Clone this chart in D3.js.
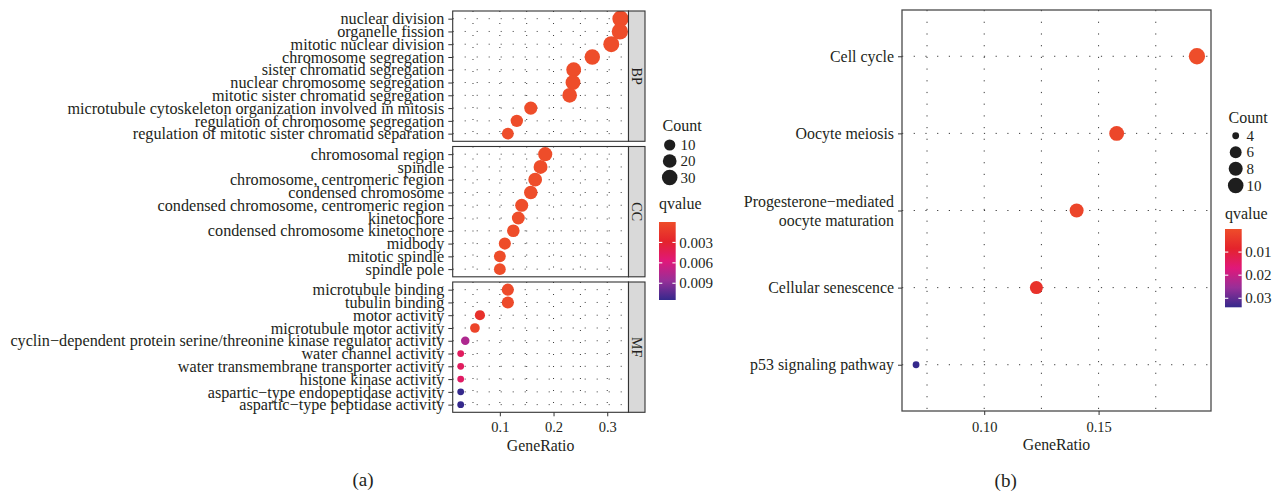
<!DOCTYPE html>
<html>
<head>
<meta charset="utf-8">
<script src="https://cdn.jsdelivr.net/npm/d3@7"></script>
<style>
  html, body { margin: 0; padding: 0; background: #fff; }
  svg text { font-family: "Liberation Serif", "Times New Roman", serif; fill: #231f20; }
</style>
</head>
<body>
<svg id="chart" width="1280" height="491"></svg>
<script>
// ---- (a) GO enrichment ----
const goFacets = ["BP", "CC", "MF"];
const goOntology = [
  "BP","BP","BP","BP","BP","BP","BP","BP","BP","BP",
  "CC","CC","CC","CC","CC","CC","CC","CC","CC","CC",
  "MF","MF","MF","MF","MF","MF","MF","MF","MF","MF"
];
const goTerm = [
  "nuclear division", "organelle fission", "mitotic nuclear division", "chromosome segregation",
  "sister chromatid segregation", "nuclear chromosome segregation", "mitotic sister chromatid segregation",
  "microtubule cytoskeleton organization involved in mitosis", "regulation of chromosome segregation",
  "regulation of mitotic sister chromatid separation",
  "chromosomal region", "spindle", "chromosome, centromeric region", "condensed chromosome",
  "condensed chromosome, centromeric region", "kinetochore", "condensed chromosome kinetochore",
  "midbody", "mitotic spindle", "spindle pole",
  "microtubule binding", "tubulin binding", "motor activity", "microtubule motor activity",
  "cyclin\u2212dependent protein serine/threonine kinase regulator activity", "water channel activity",
  "water transmembrane transporter activity", "histone kinase activity",
  "aspartic\u2212type endopeptidase activity", "aspartic\u2212type peptidase activity"
];
const goRatio = [
  0.3247, 0.3235, 0.3075, 0.2722, 0.2375, 0.2362, 0.2300, 0.1576, 0.1316, 0.1149,
  0.1845, 0.1758, 0.1658, 0.1576, 0.1407, 0.1344, 0.1251, 0.1093, 0.1000, 0.1000,
  0.1149, 0.1149, 0.0629, 0.0536, 0.0356, 0.0271, 0.0271, 0.0271, 0.0271, 0.0271
];
const goCount = [
  35, 35, 33, 29, 26, 26, 25, 17, 14, 12,
  22, 21, 20, 19, 17, 16, 15, 13, 12, 12,
  13, 13, 7, 6, 4, 3, 3, 3, 3, 3
];
const goQvalue = [
  1e-20, 1e-20, 1e-19, 1e-17, 1e-15, 1e-15, 1e-14, 1e-9, 1e-8, 1e-7,
  1e-12, 1e-11, 1e-11, 1e-10, 1e-9, 1e-9, 1e-8, 1e-6, 1e-6, 1e-6,
  0.0002, 0.0002, 0.0019, 0.0006, 0.0077, 0.0047, 0.0047, 0.0049, 0.01146, 0.01146
];
const goRatioTicks = [0.1, 0.2, 0.3];
const goGridTicks = [0.05, 0.1, 0.15, 0.2, 0.25, 0.3];
const goSizeBreaks = [10, 20, 30];
const goQBreaks = [0.003, 0.006, 0.009];

// ---- (b) KEGG enrichment ----
const keggTerm = [
  "Cell cycle", "Oocyte meiosis", "Progesterone\u2212mediated\noocyte maturation",
  "Cellular senescence", "p53 signaling pathway"
];
const keggRatio = [0.1930, 0.1579, 0.1404, 0.1228, 0.0702];
const keggCount = [11, 9, 8, 7, 4];
const keggQvalue = [0.000012, 0.0013, 0.0016, 0.0055, 0.0339];
const keggRatioTicks = [0.10, 0.15];
const keggGridTicks = [0.075, 0.10, 0.125, 0.15, 0.175];
const keggSizeBreaks = [4, 6, 8, 10];
const keggQBreaks = [0.01, 0.02, 0.03];

// qvalue colour ramp (low q -> high q)
const gradStops = ["#EE4D2A", "#E4232C", "#E0187A", "#982F98", "#35298C"];

// ---- shared helpers ----
const svg = d3.select("#chart");
svg.append("rect").attr("width", 1280).attr("height", 491).attr("fill", "#fff");
const defs = svg.append("defs");
const grad = defs.append("linearGradient").attr("id", "qgrad")
  .attr("x1", 0).attr("y1", 0).attr("x2", 0).attr("y2", 1);
gradStops.forEach((c, i) => grad.append("stop")
  .attr("offset", i / (gradStops.length - 1)).attr("stop-color", c));

const gradScale = d3.scaleLinear()
  .domain(gradStops.map((c, i) => i / (gradStops.length - 1)))
  .range(gradStops).interpolate(d3.interpolateRgb);

const D_MIN = 6.8, D_MAX = 16.3;
function sizeScale(counts) {
  const t = d3.scaleLinear().domain(d3.extent(counts)).range([0, 1]);
  return c => D_MIN + (D_MAX - D_MIN) * Math.sqrt(Math.max(0, t(c)));
}
function qScale(qs) { return d3.scaleLinear().domain(d3.extent(qs)).range([0, 1]); }
function expand(ext, f = 0.05) { const d = (ext[1] - ext[0]) * f; return [ext[0] - d, ext[1] + d]; }

const INK = "#333";
const FONT_LABEL_A = 16.2, FONT_LABEL_B = 15.9, FONT_TICK = 14.5, FONT_TITLE = 15.8;

function styleAxis(g, fontSize) {
  g.select(".domain").remove();
  g.selectAll(".tick line").attr("stroke", INK).attr("stroke-width", 1);
  g.selectAll(".tick text").attr("font-size", fontSize).attr("fill", "#231f20")
    .style("font-family", '"Liberation Serif", "Times New Roman", serif');
}

function drawLegend(g, L, sizeBreaks, diam, qt, qBreaks, fmt) {
  g.append("text").attr("x", L.x + 3.5).attr("y", L.countY).attr("font-size", 16).text("Count");
  let cy = L.keyTop;
  sizeBreaks.forEach(b => {
    const d = diam(b);
    const h = Math.max(L.keyH, d + 1.5);
    const c = cy + h / 2;
    g.append("circle").attr("cx", L.x + 10.7).attr("cy", c).attr("r", d / 2).attr("fill", "#1e1e1e");
    g.append("text").attr("x", L.x + 21.5).attr("y", c + 5.1).attr("font-size", 15).text(b);
    cy += h;
  });
  g.append("text").attr("x", L.x).attr("y", L.qTitleY).attr("font-size", 16).text("qvalue");
  const bw = 16.7;
  g.append("rect").attr("x", L.x).attr("y", L.barTop).attr("width", bw).attr("height", L.barH)
    .attr("fill", "url(#qgrad)");
  qBreaks.forEach(q => {
    const y = L.barTop + qt(q) * L.barH;
    g.append("line").attr("x1", L.x).attr("x2", L.x + 3.3).attr("y1", y).attr("y2", y)
      .attr("stroke", "#fff").attr("stroke-width", 1.1);
    g.append("line").attr("x1", L.x + bw - 3.3).attr("x2", L.x + bw).attr("y1", y).attr("y2", y)
      .attr("stroke", "#fff").attr("stroke-width", 1.1);
    g.append("text").attr("x", L.x + bw + 3.5).attr("y", y + 5.1).attr("font-size", 15).text(fmt(q));
  });
}

// ================= (a) =================
(function () {
  const rows = goTerm.map((t, i) => ({ term: t, ont: goOntology[i], ratio: goRatio[i], count: goCount[i], q: goQvalue[i] }));
  const left = 452.7, right = 628.5, stripW = 16.5;
  const top0 = 11, facetH = 130.3, gap = 5.2;
  const x = d3.scaleLinear().domain(expand(d3.extent(goRatio))).range([left, right]);
  const diam = sizeScale(goCount);
  const qt = qScale(goQvalue);
  const color = q => gradScale(qt(q));
  const g = svg.append("g");

  goFacets.forEach((f, i) => {
    const top = top0 + i * (facetH + gap), bottom = top + facetH;
    const sub = rows.filter(r => r.ont === f);
    const y = d3.scalePoint().domain(sub.map(r => r.term)).range([top, bottom]).padding(0.6);

    defs.append("clipPath").attr("id", "clipA" + f)
      .append("rect").attr("x", left).attr("y", top).attr("width", right - left).attr("height", facetH);

    const grid = g.append("g").attr("stroke", "#3a3a3a").attr("stroke-width", 1)
      .attr("stroke-dasharray", "1,11");
    grid.selectAll("line.v").data(goGridTicks).join("line")
      .attr("x1", d => x(d)).attr("x2", d => x(d)).attr("y1", top).attr("y2", bottom);
    grid.selectAll("line.h").data(sub).join("line")
      .attr("x1", left).attr("x2", right).attr("y1", d => y(d.term)).attr("y2", d => y(d.term));

    g.append("g").attr("clip-path", `url(#clipA${f})`)
      .selectAll("circle").data(sub).join("circle")
      .attr("cx", d => x(d.ratio)).attr("cy", d => y(d.term))
      .attr("r", d => diam(d.count) / 2).attr("fill", d => color(d.q));

    g.append("rect").attr("x", left).attr("y", top).attr("width", right - left).attr("height", facetH)
      .attr("fill", "none").attr("stroke", INK).attr("stroke-width", 1.1);

    // strip
    g.append("rect").attr("x", right).attr("y", top).attr("width", stripW).attr("height", facetH)
      .attr("fill", "#d9d9d9").attr("stroke", INK).attr("stroke-width", 1.1);
    g.append("text").attr("transform", `translate(${right + stripW / 2},${top + facetH / 2}) rotate(90)`)
      .attr("text-anchor", "middle").attr("dy", "0.35em").attr("font-size", 14).text(f);

    const ya = g.append("g").attr("transform", `translate(${left},0)`)
      .call(d3.axisLeft(y).tickSize(4.4).tickPadding(4));
    styleAxis(ya, FONT_LABEL_A);

    if (i === goFacets.length - 1) {
      const xa = g.append("g").attr("transform", `translate(0,${bottom})`)
        .call(d3.axisBottom(x).tickValues(goRatioTicks).tickFormat(d3.format(".1f")).tickSize(4).tickPadding(5));
      styleAxis(xa, FONT_TICK);
      g.append("text").attr("x", (left + right) / 2).attr("y", bottom + 38.6)
        .attr("text-anchor", "middle").attr("font-size", FONT_TITLE).text("GeneRatio");
    }
  });

  g.append("text").attr("x", 363).attr("y", 486).attr("text-anchor", "middle").attr("font-size", 19).text("(a)");

  drawLegend(svg.append("g"),
    { x: 659, countY: 131.3, keyTop: 137, keyH: 16, qTitleY: 208.5, barTop: 222, barH: 78 },
    goSizeBreaks, diam, qt, goQBreaks, d3.format(".3f"));
})();

// ================= (b) =================
(function () {
  const left = 902, right = 1211, top = 10, bottom = 411;
  const x = d3.scaleLinear().domain(expand(d3.extent(keggRatio))).range([left, right]);
  const y = d3.scalePoint().domain(keggTerm).range([top, bottom]).padding(0.6);
  const diam = sizeScale(keggCount);
  const qt = qScale(keggQvalue);
  const color = q => gradScale(qt(q));
  const rows = keggTerm.map((t, i) => ({ term: t, ratio: keggRatio[i], count: keggCount[i], q: keggQvalue[i] }));
  const g = svg.append("g");

  const grid = g.append("g").attr("stroke", "#3a3a3a").attr("stroke-width", 1)
    .attr("stroke-dasharray", "1.2,10.5");
  grid.selectAll("line.v").data(keggGridTicks).join("line")
    .attr("x1", d => x(d)).attr("x2", d => x(d)).attr("y1", top).attr("y2", bottom);
  grid.selectAll("line.h").data(keggTerm).join("line")
    .attr("x1", left).attr("x2", right).attr("y1", d => y(d)).attr("y2", d => y(d));

  g.selectAll("circle").data(rows).join("circle")
    .attr("cx", d => x(d.ratio)).attr("cy", d => y(d.term))
    .attr("r", d => diam(d.count) / 2).attr("fill", d => color(d.q));

  g.append("rect").attr("x", left).attr("y", top).attr("width", right - left).attr("height", bottom - top)
    .attr("fill", "none").attr("stroke", "#4a4a4a").attr("stroke-width", 1.3);

  const ya = g.append("g").attr("transform", `translate(${left},0)`)
    .call(d3.axisLeft(y).tickSize(4).tickPadding(4));
  styleAxis(ya, FONT_LABEL_B);
  ya.selectAll(".tick text").each(function (d) {
    const lines = d.split("\n");
    if (lines.length < 2) return;
    const t = d3.select(this);
    const xPos = t.attr("x");
    t.text(null).attr("dy", null);
    lines.forEach((l, i) => t.append("tspan").attr("x", xPos)
      .attr("dy", i === 0 ? `${0.32 - 0.6 * (lines.length - 1)}em` : "1.2em").text(l));
  });

  const xa = g.append("g").attr("transform", `translate(0,${bottom})`)
    .call(d3.axisBottom(x).tickValues(keggRatioTicks).tickFormat(d3.format(".2f")).tickSize(4).tickPadding(7));
  styleAxis(xa, FONT_TICK);
  g.append("text").attr("x", (left + right) / 2).attr("y", bottom + 39.2)
    .attr("text-anchor", "middle").attr("font-size", FONT_TITLE).text("GeneRatio");

  g.append("text").attr("x", 1005.7).attr("y", 486.5).attr("text-anchor", "middle").attr("font-size", 19).text("(b)");

  drawLegend(svg.append("g"),
    { x: 1225, countY: 122.6, keyTop: 127.5, keyH: 16.5, qTitleY: 219, barTop: 229, barH: 78.3 },
    keggSizeBreaks, diam, qt, keggQBreaks, d3.format(".2f"));
})();
</script>
</body>
</html>
